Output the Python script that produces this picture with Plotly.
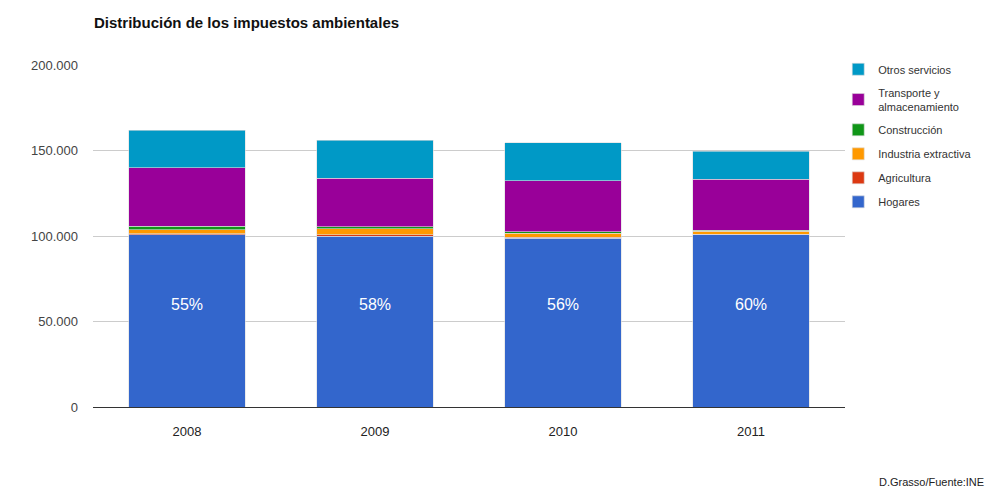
import plotly.graph_objects as go

years = ["2008", "2009", "2010", "2011"]
hogares = [100600, 100000, 98600, 100600]
agricultura = [600, 600, 600, 500]
industria = [2600, 3500, 2400, 1800]
construccion = [2000, 1200, 900, 600]
transporte = [34000, 28400, 29700, 29800]
otros = [22100, 22400, 22400, 16400]
pct_labels = ["55%", "58%", "56%", "60%"]
label_y = [60000, 60000, 60000, 60000]

series = [
    ("Hogares", hogares, "#3366cc"),
    ("Agricultura", agricultura, "#dc3912"),
    ("Industria extractiva", industria, "#ff9900"),
    ("Construcción", construccion, "#109618"),
    ("Transporte y<br>almacenamiento", transporte, "#990099"),
    ("Otros servicios", otros, "#0099c6"),
]

fig = go.Figure()
n = len(series)
for i, (name, vals, col) in enumerate(series):
    fig.add_trace(go.Bar(
        x=years, y=vals, name=name, legendgroup=name, legendrank=n - i,
        marker=dict(color=col, line=dict(color="#dddddd", width=0.6)),
    ))

for i, (lab, yy) in enumerate(zip(pct_labels, label_y)):
    fig.add_annotation(x=i, y=yy, xref="x", yref="y", text=lab, showarrow=False,
                       font=dict(size=16, color="white"))

fig.add_annotation(xref="paper", yref="paper", x=1.188, y=-0.22, xanchor="right", yanchor="middle",
                   text="D.Grasso/Fuente:INE", showarrow=False,
                   font=dict(size=11, color="#222222"))

fig.update_layout(
    width=1000, height=485,
    barmode="stack", bargap=0.38,
    paper_bgcolor="white", plot_bgcolor="white",
    margin=dict(l=85, r=163, t=57, b=86),
    font=dict(family="Liberation Sans, Arial, sans-serif", color="#444444"),
    title=dict(text="<b>Distribución de los impuestos ambientales</b>", x=0.086, xanchor="left",
               y=0.97, yanchor="middle", font=dict(size=15, color="#111111")),
    xaxis=dict(type="category", categoryorder="array", categoryarray=years, range=[-0.5, 3.5],
               showgrid=False, showline=True, linecolor="#333333", linewidth=1,
               tickfont=dict(size=13, color="#222222"), ticks="", ticklabelstandoff=12),
    yaxis=dict(range=[0, 200000], tickvals=[0, 50000, 100000, 150000, 200000],
               ticktext=["0", "50.000", "100.000", "150.000", "200.000"],
               gridcolor="#cccccc", gridwidth=1, zeroline=False,
               tickfont=dict(size=13, color="#444444"), ticklabelstandoff=14),
    legend=dict(x=0.991, y=1.03, xanchor="left", yanchor="top", traceorder="grouped",
                font=dict(size=11, color="#333333"), itemwidth=30, tracegroupgap=5,
                bgcolor="rgba(0,0,0,0)"),
)

fig.write_html("out.html")
